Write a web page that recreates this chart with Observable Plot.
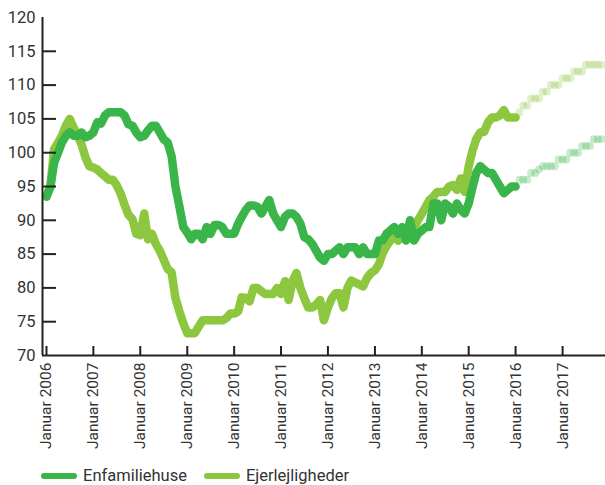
<!DOCTYPE html>
<html><head><meta charset="utf-8">
<script src="https://cdn.jsdelivr.net/npm/d3@7"></script>
<script src="https://cdn.jsdelivr.net/npm/@observablehq/plot@0.6"></script>
<style>
body{margin:0;background:#fff;font-family:Roboto,sans-serif;}
#wrap{position:relative;width:605px;height:485px;overflow:hidden;background:#fff;}
#legend{position:absolute;left:41px;top:466px;display:flex;align-items:center;font-size:16.5px;color:#333;white-space:nowrap;}
#legend .item{display:flex;align-items:center;margin-right:17px;}
#legend .sw{display:inline-block;width:36px;height:6px;border-radius:3px;margin-right:6px;}
</style></head><body><div id="wrap"><div id="chart"></div><div id="legend"></div></div>
<script>
const seriesNames = ["Enfamiliehuse", "Ejerlejligheder"];
const seriesColors = ["#3ab54a", "#8dc63f"];

// monthly index values, January 2006 – January 2016
const enfamiliehuse = [
  93.5, 95, 98.5, 100, 101.5, 102.5, 103, 102.5, 102.5, 103, 102.3, 102.5,
  103, 104.5, 104.3, 105.5, 106, 106, 106, 106, 105.5, 104.2, 104, 103,
  102.3, 102.5, 103.3, 104, 104, 103, 102, 101.5, 99.5, 95, 92, 89,
  88.2, 87.2, 88, 88, 87.2, 89, 88, 89.3, 89.3, 89, 88, 88,
  88, 89.5, 90.5, 91.5, 92.2, 92.2, 92, 91, 92, 93, 91, 90,
  89, 90.5, 91, 91, 90.5, 89.5, 87.5, 87.2, 86.5, 85.5, 84.5, 84,
  85, 85, 85.5, 86, 85, 86, 86, 86, 85, 86, 85, 85,
  85, 87, 87, 88, 88.5, 89, 88, 89, 87, 90, 87, 88,
  88.5, 89, 89, 92.5, 92.5, 90, 92.5, 92, 91, 92.5, 91.5, 91,
  92.5, 95, 97, 98, 97.5, 97, 97, 96, 95, 94, 94.5, 95,
  95
];
const ejerlejligheder = [
  93.5, 95, 100.5, 101.5, 102.5, 104, 105, 103.7, 102.5, 101.2, 99.3, 98,
  97.8, 97.5, 97, 96.5, 96, 96, 95.2, 94, 92.3, 90.8, 90.2, 88,
  87.8, 91, 87.2, 88, 86.5, 85.5, 84.2, 82.8, 82.3, 78.5, 76.5, 74.8,
  73.3, 73.3, 73.3, 74.3, 75.2, 75.2, 75.2, 75.2, 75.2, 75.2, 75.5, 76.2,
  76.2, 76.5, 78.6, 78.5, 78, 80, 80, 79.5, 79.1, 79.1, 79.1, 80,
  79.1, 81, 78.2, 81, 82.2, 80, 78.5, 77.1, 77.1, 77.5, 78.2, 75.2,
  77.1, 78.5, 79.2, 79.2, 77.1, 80, 81.1, 80.8, 80.5, 80.2, 81.5, 82.2,
  82.6, 83.5, 85.1, 86.2, 87, 87.5, 87, 87.5, 88, 88.2, 88.8, 90,
  91, 92, 93, 93.5, 94.2, 94.2, 94.2, 95, 95.2, 94.5, 96.2, 94.2,
  98, 100.4, 102, 103, 103.1, 104.5, 105.2, 105.2, 105.5, 106.3, 105.2, 105.2,
  105.2
];
// forecast, February 2016 – November 2017
const forecastEnfamiliehuse = [
  96, 96, 96, 97, 97, 97.5, 98, 98, 98, 98, 99,
  99, 99, 100, 100, 100, 101, 101, 101, 102, 102, 102
];
const forecastEjerlejligheder = [
  106, 107, 107, 108, 108, 108, 109, 109, 110, 110, 110,
  111, 111, 111, 112, 112, 112, 113, 113, 113, 113, 113
];
const yTicks = [70, 75, 80, 85, 90, 95, 100, 105, 110, 115, 120];
const xTickYears = [2006, 2007, 2008, 2009, 2010, 2011, 2012, 2013, 2014, 2015, 2016, 2017];
const xTickPrefix = "Januar";

const month = (y, m) => new Date(Date.UTC(y, m, 1));
const actual = [];
enfamiliehuse.forEach((v, i) => actual.push({date: month(2006, i), value: v, series: seriesNames[0]}));
ejerlejligheder.forEach((v, i) => actual.push({date: month(2006, i), value: v, series: seriesNames[1]}));
const forecast = [];
forecastEnfamiliehuse.forEach((v, i) => forecast.push({date: month(2016, 1 + i), value: v, series: seriesNames[0]}));
forecastEjerlejligheder.forEach((v, i) => forecast.push({date: month(2016, 1 + i), value: v, series: seriesNames[1]}));
const xTicks = xTickYears.map(y => month(y, 0));
const xDomain = [month(2005, 11), month(2017, 11)];

const color = {domain: seriesNames, range: seriesColors};

const chart = Plot.plot({
  width: 605, height: 460,
  marginLeft: 42, marginRight: 0, marginTop: 17, marginBottom: 105,
  style: {fontFamily: "Roboto, sans-serif", color: "#333", background: "white", overflow: "visible"},
  x: {type: "utc", domain: xDomain},
  y: {domain: [70, 120]},
  color,
  marks: [
    Plot.axisY({ticks: yTicks, tickSize: 0, tickPadding: 7, fontSize: 16.5, label: null, tickFormat: d => String(d)}),
    Plot.axisX({ticks: xTicks, tickSize: 0, tickRotate: -90, tickPadding: 7, fontSize: 15.5, label: null,
      tickFormat: d => `${xTickPrefix} ${d.getUTCFullYear()}`}),
    Plot.dot(forecast.filter(d => d.series === seriesNames[1]), {x: "date", y: "value", r: 4, fill: seriesColors[1], fillOpacity: 0.28}),
    Plot.dot(forecast.filter(d => d.series === seriesNames[0]), {x: "date", y: "value", r: 4, fill: seriesColors[0], fillOpacity: 0.28}),
    Plot.line(actual.filter(d => d.series === seriesNames[1]), {x: "date", y: "value", stroke: seriesColors[1], strokeWidth: 8.5, strokeLinejoin: "round", strokeLinecap: "round"}),
    Plot.line(actual.filter(d => d.series === seriesNames[0]), {x: "date", y: "value", stroke: seriesColors[0], strokeWidth: 8.5, strokeLinejoin: "round", strokeLinecap: "round"}),
    Plot.tickY(yTicks.filter(d => d > 70 && d < 120), {y: d => d, stroke: "#222", strokeWidth: 2, insetRight: 549}),
    Plot.tickX(xTicks, {x: d => d, stroke: "#222", strokeWidth: 2, insetTop: 329}),
    Plot.ruleY([yTicks[0]], {stroke: "#222", strokeWidth: 2}),
    Plot.ruleX([xDomain[0]], {stroke: "#222", strokeWidth: 2})
  ]
});
document.getElementById("chart").appendChild(chart);

const legend = document.getElementById("legend");
seriesNames.forEach((name, i) => {
  const item = document.createElement("span");
  item.className = "item";
  const sw = document.createElement("span");
  sw.className = "sw";
  sw.style.background = seriesColors[i];
  item.appendChild(sw);
  item.appendChild(document.createTextNode(name));
  legend.appendChild(item);
});
</script></body></html>
